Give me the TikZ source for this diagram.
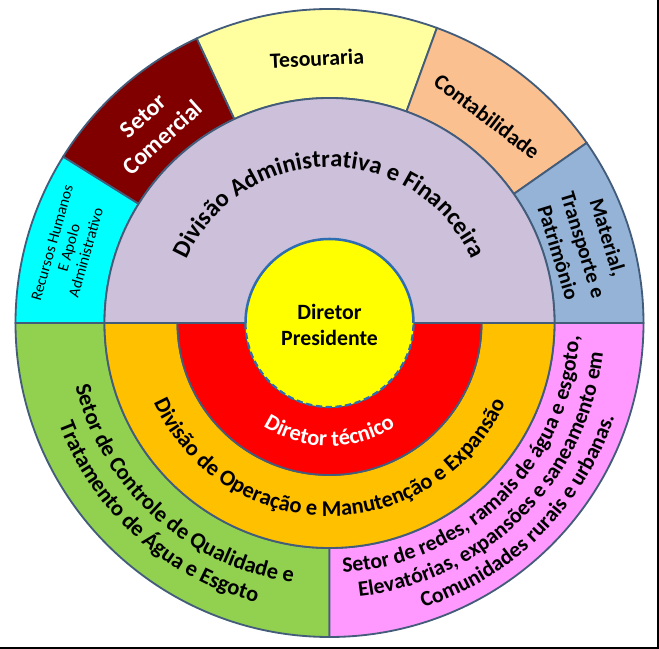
\documentclass[tikz,border=0pt]{standalone}
\usepackage{fontspec}
\setmainfont{Carlito}
\usetikzlibrary{decorations.text}

\definecolor{contorno}{RGB}{66,92,122}
\definecolor{ciano}{RGB}{0,255,255}
\definecolor{vinho}{RGB}{128,0,0}
\definecolor{creme}{RGB}{255,255,160}
\definecolor{pessego}{RGB}{250,192,144}
\definecolor{azulcinza}{RGB}{149,179,215}
\definecolor{lavanda}{RGB}{204,192,218}
\definecolor{amarelo}{RGB}{255,255,0}
\definecolor{vermelho}{RGB}{255,0,0}
\definecolor{laranja}{RGB}{255,192,0}
\definecolor{verde}{RGB}{146,208,80}
\definecolor{rosa}{RGB}{255,153,255}
\definecolor{azulborda}{RGB}{46,110,176}

\newcommand{\fdivadm}{\bfseries\fontsize{17.5}{20}\selectfont}
\newcommand{\fdivop}{\bfseries\fontsize{16}{19}\selectfont}
\newcommand{\fsetor}{\bfseries\fontsize{15.5}{18}\selectfont}

\begin{document}
\begin{tikzpicture}[x=0.025cm,y=0.025cm,
	setor/.style={draw=contorno, line width=1.3pt},
	rotulo/.style={align=center, inner sep=0pt},
	arco/.style={decorate, decoration={text along path, text align=center, text={#1}}}
	]

		\useasboundingbox (-329.5,-326) rectangle (329.5,323);
		
		\filldraw[setor, fill=ciano] (180:225) -- (180:314) arc[start angle=180, end angle=148, radius=314] -- (148:225) arc[start angle=148, end angle=180, radius=225] -- cycle;
		\filldraw[setor, fill=vinho] (148:225) -- (148:314) arc[start angle=148, end angle=115, radius=314] -- (115:225) arc[start angle=115, end angle=148, radius=225] -- cycle;
		\filldraw[setor, fill=creme] (115:225) -- (115:314) arc[start angle=115, end angle=70, radius=314] -- (70:225) arc[start angle=70, end angle=115, radius=225] -- cycle;
		\filldraw[setor, fill=pessego] (70:225) -- (70:314) arc[start angle=70, end angle=35, radius=314] -- (35:225) arc[start angle=35, end angle=70, radius=225] -- cycle;
		\filldraw[setor, fill=azulcinza] (35:225) -- (35:314) arc[start angle=35, end angle=0, radius=314] -- (0:225) arc[start angle=0, end angle=35, radius=225] -- cycle;
		\filldraw[setor, fill=verde] (180:225) -- (180:314) arc[start angle=180, end angle=270, radius=314] -- (270:225) arc[start angle=270, end angle=180, radius=225] -- cycle;
		\filldraw[setor, fill=rosa] (270:225) -- (270:314) arc[start angle=270, end angle=360, radius=314] -- (0:225) arc[start angle=360, end angle=270, radius=225] -- cycle;
		
		\filldraw[setor, fill=lavanda] (-225,0) arc[start angle=180, end angle=0, radius=225] -- cycle;
		\filldraw[setor, fill=laranja] (-225,0) arc[start angle=180, end angle=360, radius=225] -- (152,0) arc[start angle=360, end angle=180, radius=152] -- cycle;
		\filldraw[setor, fill=vermelho] (-152,0) arc[start angle=180, end angle=360, radius=152] -- (84,0) arc[start angle=360, end angle=180, radius=84] -- cycle;
		
		\fill[amarelo] (0,0) circle[radius=84];
		\draw[azulborda, line width=1.8pt] (84,0) arc[start angle=0, end angle=180, radius=84];
		\draw[azulborda, line width=1.6pt, dash pattern=on 4.5pt off 2.5pt] (-84,0) arc[start angle=180, end angle=360, radius=84];
		
		\draw[line width=1.5pt] (328.5,323) -- (328.5,-325) -- (-329.5,-325);
		
		\node[rotulo, font=\bfseries\fontsize{15.5}{18.5}\selectfont] (presidente) at (0,-2) {Diretor\\Presidente};
		\node[rotulo, font=\fsetor, rotate=2.7] (tesouraria) at (92.7:265) {Tesouraria};
		\node[rotulo, font=\fsetor, rotate=-37.3] (contabilidade) at (52.7:260) {Contabilidade};
		\node[rotulo, font=\bfseries\fontsize{17}{20.5}\selectfont, text=white, rotate=42] (comercial) at (132:264) {Setor\\Comercial};
		\node[rotulo, font=\fontsize{11}{12.5}\selectfont, rotate=74] (rh) at (163.9:271) {Recursos Humanos\\E Apolo\\Administrativo};
		\node[rotulo, font=\bfseries\fontsize{15}{18.4}\selectfont, rotate=-73] (material) at (17.1:265.7) {Material,\\Transporte e\\Patrimônio};
		
		\path[arco={|\fdivadm|Divisão Administrativa e Financeira}] (160:156) arc[start angle=160, end angle=20, radius=156];
		\path[arco={|\fdivop|Divisão de Operação e Manutenção e Expansão}] (200:193) arc[start angle=200, end angle=340, radius=193];
		\path[arco={|\fdivop\color{white}|Diretor técnico}] (210:123) arc[start angle=210, end angle=330, radius=123];
		
		\path[arco={|\fdivop|Setor de Controle de Qualidade e}] (178:262) arc[start angle=178, end angle=278, radius=262];
		\path[arco={|\fdivop|Tratamento de Água e Esgoto}] (178:289) arc[start angle=178, end angle=278, radius=289];
		
		\path[arco={|\fsetor|Setor de redes, ramais de água e esgoto,}] (260:250) arc[start angle=260, end angle=370, radius=250];
		\path[arco={|\fsetor|Elevatórias, expansões e saneamento em}] (260:275) arc[start angle=260, end angle=370, radius=275];
		\path[arco={|\fsetor|Comunidades rurais e urbanas.}] (260:300) arc[start angle=260, end angle=370, radius=300];
		
	\end{tikzpicture}
\end{document}
